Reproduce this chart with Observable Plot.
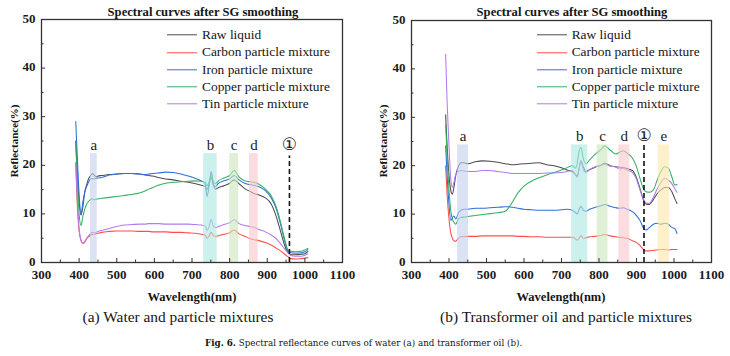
<!DOCTYPE html>
<html><head><meta charset="utf-8">
<script src="https://cdn.jsdelivr.net/npm/d3@7"></script>
<script src="https://cdn.jsdelivr.net/npm/@observablehq/plot@0.6"></script>
<style>
body{margin:0;background:#fff;}
#wrap{position:relative;width:730px;height:356px;overflow:hidden;font-family:"Liberation Serif",serif;color:#151515;background:#fff;}
.abs{position:absolute;white-space:nowrap;line-height:1;}
.c{transform:translate(-50%,-50%);}
.title{font-weight:bold;font-size:12.6px;}
.ylab{font-weight:bold;font-size:11px;transform:translate(-50%,-50%) rotate(-90deg);}
.xlab{font-weight:bold;font-size:12.5px;}
.cap{font-size:15.4px;}
.fig{font-family:"DejaVu Serif",serif;font-size:8.75px;transform:translateY(-50%);}
.leg{font-size:13.4px;transform:translateY(-50%);display:flex;align-items:center;}
.leg span.ln{display:inline-block;width:30px;height:0;border-top:1.5px solid #000;margin-right:5px;}
.plot{position:absolute;top:0;}
</style>
</head><body>
<div id="wrap"></div>
<script>
// ---------- data ----------
const seriesNames = ["Raw liquid","Carbon particle mixture","Iron particle mixture","Copper particle mixture","Tin particle mixture"];
const seriesColors = ["#4d4d4d","#ff4d4d","#2f6fdc","#36b060","#b07cf0"];
const panelTitle = "Spectral curves after SG smoothing";
const xLabel = "Wavelength(nm)";
const yLabel = "Reflectance(%)";
const captionA = "(a) Water and particle mixtures";
const captionB = "(b) Transformer oil and particle mixtures";
const figLabel = "Fig. 6.";
const figText = " Spectral reflectance curves of water (a) and transformer oil (b).";

const xTicks = [300,400,500,600,700,800,900,1000,1100];
const xMinor = [350,450,550,650,750,850,950,1050];
const yTicks = [0,10,20,30,40,50];
const yMinor = [5,15,25,35,45];

// (a) water
const waterWl = [391,395,400,405,410,415,420,425,430,435,440,445,450,460,480,500,520,540,560,575,585,595,610,630,650,670,690,710,725,735,740,745,751,756,762,770,785,800,812,825,840,855,865,878,895,910,925,935,945,955,962,975,990,1000,1008];
const waterRaw    = [25,19,12.5,9.8,11.5,14.5,16,17.2,17.8,18.3,18.0,17.6,17.8,17.9,18.1,18.2,18.3,18.3,18.2,18.0,17.9,17.8,17.5,17.2,17.0,16.7,16.5,16.2,15.9,15.6,15.0,16.0,17.5,16.2,15.1,15.4,15.8,16.3,17.0,16.2,15.2,14.6,14.2,13.9,13.3,12.1,9.2,6.5,3.8,2.0,1.6,1.6,1.7,1.8,2.3];
const waterCarbon = [20.5,12,6.5,4.5,3.9,4.2,4.9,5.3,5.6,5.8,5.8,5.9,6.0,6.2,6.4,6.5,6.5,6.5,6.4,6.4,6.4,6.3,6.3,6.3,6.2,6.2,6.1,6.0,5.8,5.6,5.0,5.4,6.2,5.6,5.4,5.5,5.8,6.1,6.7,5.9,5.4,4.9,4.7,4.5,4.1,3.6,2.9,2.4,1.8,1.2,0.8,0.7,0.8,0.9,1.0];
const waterIron   = [29,22,14,9.8,12.5,14.5,15.6,16.5,17.2,17.3,17.2,17.3,17.4,17.5,18.0,18.2,18.3,18.3,18.2,18.1,18.2,18.3,18.4,18.6,18.5,18.2,17.8,17.3,16.8,16.2,13.6,15.5,18.7,16.5,15.6,16.3,16.8,17.2,17.9,17.0,16.3,16.0,15.9,15.6,14.8,13.4,10.8,8.0,4.8,2.3,2.0,1.9,2.0,2.2,2.7];
const waterCopper = [24.5,17,10,7.6,9.5,11.0,12.0,12.6,12.9,13.1,12.9,13.0,13.1,13.2,13.4,13.6,13.8,14.0,14.3,14.7,15.1,15.4,15.9,16.3,16.5,16.6,16.7,16.8,16.7,16.5,15.8,16.5,18.0,16.8,16.2,16.8,17.4,17.9,18.9,17.6,16.8,16.6,16.5,16.1,15.1,13.8,11.2,8.4,5.2,2.6,2.3,2.2,2.3,2.6,2.9];
const waterTin    = [20.5,13,7,4.6,4.0,4.3,5.0,5.5,5.9,6.2,6.1,6.2,6.4,6.6,7.0,7.4,7.7,7.8,7.9,7.9,8.0,8.0,8.0,7.9,7.9,7.9,7.9,7.8,7.7,7.5,6.6,7.3,8.9,7.6,7.2,7.4,7.8,8.2,8.8,8.0,7.6,7.4,7.2,6.8,6.3,5.7,4.8,3.9,2.9,2.0,1.5,1.3,1.3,1.5,1.8];
const waterBandLabels = ["a","b","c","d"];
const waterBandStart  = [430,731,800,853];
const waterBandEnd    = [448,767,824,876];
const waterBandTop = 22.4, waterLabelAt = 24.2;
const waterMarkerWl = 959, waterMarkerTop = 21.9, waterMarkerLabelAt = 24.3;

// (b) transformer oil
const oilWl = [391,395,400,405,409,413,418,425,432,440,450,470,490,510,530,550,560,570,585,600,620,640,660,680,700,715,729,737,742,747,752,758,765,775,790,805,815,830,845,855,865,875,889,900,910,918,925,934,945,955,965,975,985,995,1002,1008];
const oilRaw    = [30.5,24,18,14.8,14.1,15.5,18.0,19.8,20.6,20.6,20.4,20.8,21.0,20.9,20.7,20.4,20.3,20.2,20.3,20.4,20.5,20.6,20.2,20.0,19.6,19.1,18.8,18.2,17.8,19.5,21.0,19.8,18.8,19.2,19.7,20.1,20.5,20.0,19.8,19.7,19.6,19.4,19.0,17.5,15.1,13.0,12.1,12.0,13.0,14.2,15.0,15.5,15.5,14.5,13.2,12.2];
const oilCarbon = [20,14,9,6.0,5.0,4.5,4.4,5.0,5.3,5.3,5.4,5.4,5.5,5.5,5.5,5.5,5.5,5.5,5.4,5.4,5.3,5.3,5.2,5.2,5.2,5.2,5.2,4.9,4.6,5.0,5.5,5.0,5.1,5.3,5.4,5.6,5.8,5.5,5.3,5.2,5.1,5.0,4.5,4.1,3.5,2.7,2.4,2.4,2.5,2.6,2.7,2.7,2.6,2.7,2.7,2.7];
const oilIron   = [24.1,18,12,8.7,9.2,9.6,9.0,10.2,10.8,11.0,11.0,11.2,11.2,11.3,11.4,11.5,11.5,11.4,11.2,11.0,10.9,10.8,10.8,10.8,10.9,11.0,10.8,10.3,10.0,11.0,11.6,10.8,10.6,11.0,11.4,11.7,12.0,11.6,11.3,11.2,11.3,11.0,10.5,9.7,8.6,7.2,6.7,7.2,7.9,8.1,7.9,8.1,7.9,7.2,7.0,6.0];
const oilCopper = [28.5,22,15,10.5,9.0,8.3,7.9,9.0,9.3,9.4,9.5,9.7,9.9,10.1,10.3,10.6,11.4,12.6,14.5,15.8,16.8,17.5,18.1,18.6,19.1,19.6,20.0,19.5,20.5,23.0,23.8,21.5,20.4,21.2,22.4,23.3,24.1,23.2,22.4,22.8,23.1,22.6,21.6,19.8,17.2,15.3,14.6,14.5,15.0,17.0,18.8,19.8,19.5,17.5,16.0,16.1];
const oilTin    = [43,33,24,17,15.5,16.5,18.2,18.9,19.0,18.9,18.8,18.8,19.0,19.0,18.8,18.6,18.5,18.4,18.4,18.4,18.4,18.4,18.5,18.5,18.6,18.8,19.0,18.2,17.6,19.3,21.0,19.2,18.6,19.2,19.8,20.0,20.3,19.9,19.7,19.3,19.5,19.1,18.6,17.2,14.8,13.3,12.3,12.2,13.5,15.2,16.5,17.4,17.0,16.2,15.3,14.5];
const oilBandLabels = ["a","b","c","d","e"];
const oilBandStart  = [423,727,795,853,958];
const oilBandEnd    = [452,770,824,882,988];
const oilBandTop = 24.3, oilLabelAt = 26.0;
const oilMarkerWl = 920, oilMarkerTop = 24.7, oilMarkerLabelAt = 26.2;

const bandColors = {a:"#c3d0ee", b:"#ace6df", c:"#cbe6be", d:"#f8c6cb", e:"#fce6aa"};

// ---------- drawing ----------
function panel(wl, series, labels, starts, ends, bandTop, labelAt, markerWl, markerTop, markerLabelAt, m) {
  const bands = labels.map((l, i) => ({label: l, start: starts[i], end: ends[i], mid: (starts[i] + ends[i]) / 2, top: bandTop, base: 0, at: labelAt}));
  const marker = [{wl: markerWl, top: markerTop, base: 0, at: markerLabelAt, sym: "\u2460"}];
  const lineMarks = series.map((vals, i) =>
    Plot.line(vals.map((v, j) => ({wl: wl[j], r: v})), {x: "wl", y: "r", stroke: seriesColors[i], strokeWidth: 1.05, curve: "monotone-x"}));
  const bandMarks = bands.map(b =>
    Plot.rectY([b], {x1: "start", x2: "end", y1: "base", y2: "top", fill: bandColors[b.label], fillOpacity: 0.62}));
  const fmt = d3.format("d");
  return Plot.plot({
    width: 365, height: 285,
    marginLeft: m.left, marginRight: m.right, marginTop: m.top, marginBottom: 23,
    x: {domain: [300, 1100]},
    y: {domain: [0, 50]},
    style: {fontFamily: "'Liberation Serif', serif", fontSize: "13px", fontWeight: "bold", color: "#1a1a1a", background: "transparent", overflow: "visible"},
    marks: [
      ...lineMarks,
      ...bandMarks,
      Plot.ruleX(marker, {x: "wl", y1: "base", y2: "top", stroke: "#111", strokeWidth: 1.6, strokeDasharray: "5,3"}),
      Plot.text(bands, {x: "mid", y: "at", text: "label", fontSize: 15, fontWeight: "normal", fill: "#222"}),
      Plot.text(marker, {x: "wl", y: "at", text: "sym", fontSize: 17, fontWeight: "normal", fontFamily: "DejaVu Sans", fill: "#222"}),
      Plot.frame({stroke: "#333", strokeWidth: 1.3}),
      Plot.axisX(xTicks, {tickSize: 0, tickPadding: 7.5, label: null, tickFormat: fmt}),
      Plot.axisX(xTicks, {tickSize: -4, fill: "none", label: null, stroke: "#333"}),
      Plot.axisX(xMinor, {tickSize: -2.5, fill: "none", label: null, stroke: "#333"}),
      Plot.axisY(yTicks, {tickSize: 0, tickPadding: 6, dy: -1, label: null, tickFormat: fmt}),
      Plot.axisY(yTicks, {tickSize: -4, fill: "none", label: null, stroke: "#333"}),
      Plot.axisY(yMinor, {tickSize: -2.5, fill: "none", label: null, stroke: "#333"})
    ]
  });
}

const wrap = document.getElementById("wrap");
function add(html, cls, x, y) {
  const d = document.createElement("div");
  d.className = "abs " + cls;
  d.style.left = x + "px"; d.style.top = y + "px";
  d.innerHTML = html;
  wrap.appendChild(d);
  return d;
}

const pA = panel(waterWl, [waterRaw, waterCarbon, waterIron, waterCopper, waterTin], waterBandLabels, waterBandStart, waterBandEnd, waterBandTop, waterLabelAt, waterMarkerWl, waterMarkerTop, waterMarkerLabelAt, {left: 41, right: 23, top: 19});
const pB = panel(oilWl, [oilRaw, oilCarbon, oilIron, oilCopper, oilTin], oilBandLabels, oilBandStart, oilBandEnd, oilBandTop, oilLabelAt, oilMarkerWl, oilMarkerTop, oilMarkerLabelAt, {left: 46, right: 19, top: 20});
const dA = document.createElement("div"); dA.className = "plot"; dA.style.left = "0px"; dA.appendChild(pA); wrap.appendChild(dA);
const dB = document.createElement("div"); dB.className = "plot"; dB.style.left = "365px"; dB.appendChild(pB); wrap.appendChild(dB);

add(panelTitle, "title c", 203, 12);
add(panelTitle, "title c", 572, 12);
add(yLabel, "ylab", 14, 141);
add(yLabel, "ylab", 383, 141);
add(xLabel, "xlab c", 192, 296.5);
add(xLabel, "xlab c", 561, 296.5);
add(captionA, "cap c", 178, 316.5);
add(captionB, "cap c", 566, 316.5);
add("<b>" + figLabel + "</b>" + figText, "fig", 205, 343);

const legRows = [35, 52.3, 69.6, 86.9, 104.2];
function legend(x) {
  seriesNames.forEach((n, i) => {
    add(`<span class="ln" style="border-top-color:${seriesColors[i]}"></span>${n}`, "leg", x, legRows[i]);
  });
}
legend(167);
legend(536.7);
</script>
</body></html>
